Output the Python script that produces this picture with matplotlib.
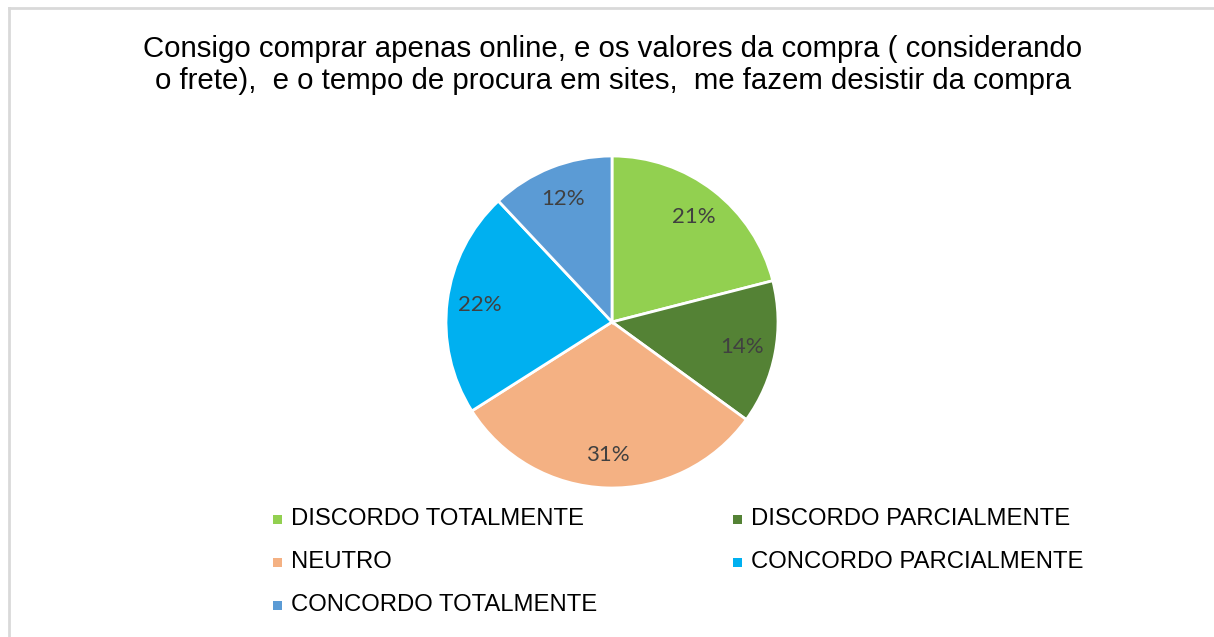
import matplotlib.pyplot as plt
from matplotlib.patches import Rectangle
from matplotlib.lines import Line2D

# Data
categories = ['DISCORDO TOTALMENTE', 'DISCORDO PARCIALMENTE', 'NEUTRO',
              'CONCORDO PARCIALMENTE', 'CONCORDO TOTALMENTE']
values = [21, 14, 31, 22, 12]
colors = ['#92D050', '#548235', '#F4B183', '#00B0F0', '#5B9BD5']

title = ('Consigo comprar apenas online, e os valores da compra ( considerando\n'
         'o frete),  e o tempo de procura em sites,  me fazem desistir da compra')

W, H = 1214, 637
fig = plt.figure(figsize=(W / 100, H / 100), dpi=100)
fig.patch.set_facecolor('white')

# partial frame (chart area border cut off at right/bottom)
fig.add_artist(Line2D([9 / W, 9 / W], [0, 1 - 8 / H], color='#D9D9D9', lw=2))
fig.add_artist(Line2D([9 / W, 1], [1 - 8 / H, 1 - 8 / H], color='#D9D9D9', lw=2))

fig.text(613 / W, 1 - 65 / H, title, ha='center', va='center',
         fontsize=21.2, family='Liberation Sans', linespacing=1.2)

# pie
cx, cy, r = 612, 322, 166
ax = fig.add_axes([(cx - r) / W, (H - cy - r) / H, 2 * r / W, 2 * r / H])
wedges, texts, autotexts = ax.pie(
    values, colors=colors, startangle=90, counterclock=False,
    autopct='%1.0f%%', pctdistance=0.8,
    wedgeprops=dict(edgecolor='white', linewidth=2),
    textprops=dict(color='#404040', fontsize=16, family='Lato'))
ax.set_xlim(-1.0, 1.0)
ax.set_ylim(-1.0, 1.0)
ax.axis('off')

# legend, row-major in two columns
col_x = [277, 737]
row_y = [519, 562, 605]
for i, (lab, col) in enumerate(zip(categories, colors)):
    x = col_x[i % 2]
    y = row_y[i // 2]
    fig.add_artist(Rectangle(((x - 4.5) / W, 1 - (y + 4.5) / H), 9 / W, 9 / H,
                             facecolor=col, edgecolor='none',
                             transform=fig.transFigure))
    fig.text((x + 14) / W, 1 - y / H, lab, ha='left', va='center',
             fontsize=17.2, family='Liberation Sans', color='black')

fig.savefig('out.png', dpi=100, facecolor='white')
